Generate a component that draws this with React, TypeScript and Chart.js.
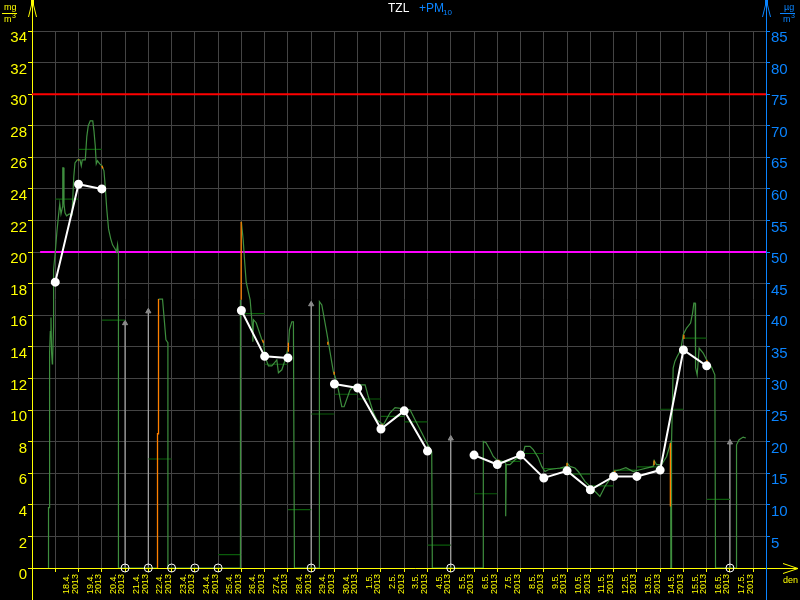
import React, { useEffect, useRef } from "react";
import { Chart, registerables } from "chart.js";

Chart.register(...registerables);

// ---------- data ----------
const dayLabels = [
  "18.4.", "19.4.", "20.4.", "21.4.", "22.4.", "23.4.", "24.4.", "25.4.", "26.4.", "27.4.",
  "28.4.", "29.4.", "30.4.", "1.5.", "2.5.", "3.5.", "4.5.", "5.5.", "6.5.", "7.5.",
  "8.5.", "9.5.", "10.5.", "11.5.", "12.5.", "13.5.", "14.5.", "15.5.", "16.5.", "17.5.",
];
const yearLabel = "2013";

// TZL daily means (days 1..30), null = missing
const tzlDaily = [
  18.1, 24.3, 24.0, null, null, null, null, null, 16.3, 13.4,
  13.3, null, 11.65, 11.4, 8.8, 9.95, 7.4, null, 7.15, 6.55,
  7.15, 5.7, 6.15, 4.95, 5.8, 5.8, 6.2, 13.8, 12.8, null,
];

// PM daily step values (days 1..30)
const pmDaily = [
  23.35, 26.5, 15.7, null, 6.9, null, null, 0.85, 16.1, 12.9,
  3.7, 9.75, 11.0, 10.7, 9.6, 9.25, 1.45, null, 4.7, 6.75,
  7.25, 6.3, 5.95, 5.2, 6.2, 6.4, 10.05, 14.55, 4.35, null,
];

// days with missing data (circles on the axis)
const missingDays = [4, 5, 6, 7, 8, 12, 18, 30];
// gray arrows (day, value)
const arrowDays = [4, 5, 12, 18, 30];
const arrowValues = [15.6, 16.35, 16.8, 8.3, 8.05];

const limitRed = 30;
const limitMagenta = 20;

// hi-res PM curve (time in days from 17.4. 0:00)
const pmTimes = [
  0.71, 0.71, 0.756, 0.756, 0.786, 0.816, 0.842, 0.872, 0.885, 0.928, 0.928, 1.001, 1.074, 1.143, 1.194,
  1.246, 1.314, 1.323, 1.357, 1.375, 1.418, 1.486, 1.602, 1.718, 1.796, 1.847, 1.946, 2.062, 2.118, 2.161,
  2.29, 2.354, 2.418, 2.504, 2.612, 2.663, 2.719, 2.762, 2.814, 2.912, 3.007, 3.093, 3.149, 3.213, 3.29,
  3.385, 3.462, 3.565, 3.634, 3.677, 3.716, 3.716, 5.395, 5.395,
  5.438, 5.61, 5.696, 5.756, 5.842, 5.842, 8.96, 8.96, 8.96,
  9.0, 9.077, 9.141, 9.205, 9.261, 9.377, 9.493, 9.493, 9.519, 9.635, 9.88, 9.948, 10.021, 10.163, 10.309,
  10.524, 10.593, 10.739, 10.881, 11.022, 11.065, 11.168, 11.237, 11.28,
  12.354, 12.354, 12.457, 12.672, 12.955, 13.028, 13.17, 13.316, 13.415, 13.673, 13.888, 14.317, 14.459,
  14.674, 14.82, 15.103, 15.391, 15.606, 16.25, 16.465, 16.753, 16.967, 17.182, 17.208,
  19.399, 19.399, 19.515, 19.687, 19.828, 19.974, 20.189, 20.361, 20.361, 20.387, 20.546, 20.761, 20.975,
  21.117, 21.19, 21.405, 21.546, 21.761, 21.907, 22.049, 22.191, 22.693, 22.981, 23.007, 23.123, 23.338,
  23.479, 23.767, 24.055, 24.27, 24.411, 24.626, 24.914, 24.983, 25.27, 25.528, 25.842, 26.13, 26.701,
  26.744, 26.847, 27.062, 27.277, 27.448, 27.46, 27.475, 27.49, 27.56, 27.633, 27.732, 27.848, 27.921,
  27.99, 28.136, 28.308, 28.394, 28.449, 28.505, 28.522, 28.591, 28.677, 28.849, 28.995, 29.038, 29.21,
  29.351, 29.381, 30.283, 30.283, 30.395, 30.567, 30.683,
];
const pmValues = [
  0, 3.82, 3.82, 13.63, 14.96, 15.86, 13.63, 12.93, 13.18, 15.29, 18.88, 20.02, 21.35, 22.36, 23.06,
  22.42, 22.87, 25.34, 25.34, 23.06, 22.49, 22.3, 22.42, 22.36, 24.77, 25.65, 25.84, 25.84, 25.46, 25.84,
  25.84, 27.3, 28.0, 28.31, 28.31, 27.68, 26.73, 25.59, 25.78, 25.59, 25.46, 25.15, 24.13, 22.74, 21.47,
  20.84, 20.46, 20.21, 20.02, 20.46, 19.83, 0, 0, null,
  17.03, 17.03, 15.53, 14.45, 14.26, 0, 0, 16.98, null,
  21.92, 20.78, 19.39, 18.12, 17.74, 16.98, 14.89, 14.32, 15.72, 15.53, 14.45, 14.26, 13.37, 12.8, 12.8,
  13.18, 12.36, 12.55, 13.18, 14.01, 15.08, 15.59, 15.59, 0,
  0, 16.87, 16.66, 14.89, 12.42, 12.11, 11.28, 10.21, 10.21, 11.28, 11.6, 11.6, 10.84,
  9.83, 9.39, 9.07, 9.83, 10.15, 10.02, 9.39, 8.56, 7.93, 7.36, 0,
  0, 8.01, 7.93, 7.49, 7.06, 6.85, 6.75, 6.66, 3.27, 6.54, 6.54, 6.85, 7.06,
  7.28, 7.7, 7.7, 7.49, 6.98, 6.43, 6.11, 6.22, 6.33, 6.43, 6.65, 6.43, 6.33,
  6.11, 5.48, 5.06, 4.75, 4.53, 5.16, 5.8, 6.11, 6.22, 6.35, 6.11, 6.22, 6.43,
  6.81, 6.54, 6.54, 7.06, 7.91, 0, 0, 7.91, 12.66, 13.08, 13.39, 13.71, 14.13,
  14.77, 15.19, 15.51, 16.14, 16.77, 16.77, 12.68, 12.23, 13.92, 13.61, 13.18, 12.97, 12.72,
  12.23, 0, 0, 7.8, 8.12, 8.29, 8.23,
];

// orange flagged pieces of the PM curve
const orangeTimes = [
  1.99, 2.03, 2.03, 3.0, 3.05, 3.05, 5.395, 5.395, 5.438, 5.438, 5.438, 8.99, 8.99, 8.99,
  9.91, 9.95, 9.95, 11.02, 11.02, 11.02, 12.715, 12.715, 12.715, 12.99, 12.99, 12.99,
  13.99, 14.02, 14.02, 15.03, 15.06, 15.06, 20.04, 20.07, 20.07, 23.0, 23.0, 23.0,
  25.02, 25.05, 25.05, 26.74, 26.74, 26.74, 27.44, 27.44, 27.44, 28.02, 28.02, 28.02, 29.0, 29.04,
];
const orangeValues = [
  25.84, 25.84, null, 25.46, 25.3, null, 0, 8.5, 8.5, 17.03, null, 16.98, 21.92, null,
  14.45, 14.26, null, 13.69, 14.26, null, 14.32, 14.13, null, 12.42, 12.23, null,
  11.6, 11.6, null, 9.1, 9.07, null, 6.85, 6.8, null, 6.65, 6.43, null,
  6.11, 6.15, null, 6.81, 6.5, null, 7.91, 3.9, null, 14.77, 14.5, null, 13.18, 12.97,
];

// ---------- styles ----------
const YELLOW = "#ffff00";
const BLUE = "#0a84ff";
const GRID = "#444444";
const GREEN = "#3e8e3e";
const DARKGREEN = "#0b5c0b";
const ORANGE = "#ff8000";
const FONT = "'Liberation Sans', Arial, sans-serif";

const isWhole = (v: number) => Math.abs(v - Math.round(v)) < 1e-6;
const isHalf = (v: number) => Math.abs(v - Math.floor(v) - 0.5) < 1e-6;
const al = (p: number) => Math.round(p - 0.5) + 0.5;

const decorPlugin = {
  id: "decor",
  beforeDatasetsDraw(chart: any) {
    const ctx = chart.ctx as CanvasRenderingContext2D;
    const { left, right, bottom } = chart.chartArea;
    const xl = al(left), xr = al(right), yb = al(bottom);
    ctx.save();
    ctx.lineWidth = 1;
    // x axis
    ctx.strokeStyle = YELLOW;
    ctx.beginPath();
    ctx.moveTo(xl, yb); ctx.lineTo(798, yb);
    ctx.moveTo(798, yb); ctx.lineTo(783, yb - 5);
    ctx.moveTo(798, yb); ctx.lineTo(783, yb + 5);
    ctx.stroke();
    // left axis
    ctx.beginPath();
    ctx.moveTo(xl, 0); ctx.lineTo(xl, 600);
    ctx.moveTo(xl, 1); ctx.lineTo(xl - 4, 17);
    ctx.moveTo(xl, 1); ctx.lineTo(xl + 4, 17);
    ctx.stroke();
    ctx.fillStyle = YELLOW;
    ctx.fillRect(xl - 1.5, 0, 3, 5);
    // right axis
    ctx.strokeStyle = BLUE;
    ctx.beginPath();
    ctx.moveTo(xr, 0); ctx.lineTo(xr, 600);
    ctx.moveTo(xr, 1); ctx.lineTo(xr - 4, 17);
    ctx.moveTo(xr, 1); ctx.lineTo(xr + 4, 17);
    ctx.stroke();
    ctx.fillStyle = BLUE;
    ctx.fillRect(xr - 1.5, 0, 3, 5);
    ctx.restore();
  },
  afterDraw(chart: any) {
    const ctx = chart.ctx as CanvasRenderingContext2D;
    ctx.save();
    ctx.textBaseline = "top";
    ctx.textAlign = "left";
    // title
    ctx.font = `12px ${FONT}`;
    ctx.fillStyle = "#ffffff";
    ctx.fillText("TZL", 388, 3);
    ctx.fillStyle = BLUE;
    ctx.fillText("+PM", 419, 3);
    ctx.font = `8px ${FONT}`;
    ctx.fillText("10", 443, 9);
    // units left
    ctx.fillStyle = YELLOW;
    ctx.strokeStyle = YELLOW;
    ctx.font = `9px ${FONT}`;
    ctx.fillText("mg", 4, 3);
    ctx.fillText("m", 4, 15);
    ctx.font = `7px ${FONT}`;
    ctx.fillText("3", 12, 13);
    ctx.beginPath();
    ctx.moveTo(2, 13.5); ctx.lineTo(17, 13.5);
    ctx.stroke();
    // units right
    ctx.fillStyle = BLUE;
    ctx.strokeStyle = BLUE;
    ctx.font = `9px ${FONT}`;
    ctx.fillText("\u00b5g", 784, 3);
    ctx.fillText("m", 783, 15);
    ctx.font = `7px ${FONT}`;
    ctx.fillText("3", 791, 13);
    ctx.beginPath();
    ctx.moveTo(780, 13.5); ctx.lineTo(795, 13.5);
    ctx.stroke();
    // x unit
    ctx.fillStyle = YELLOW;
    ctx.font = `9px ${FONT}`;
    ctx.fillText("den", 783, 576);
    ctx.restore();
  },
};

function buildSteps(vals: (number | null)[]) {
  const pts: { x: number; y: number | null }[] = [];
  vals.forEach((v, i) => {
    if (v === null) return;
    const d = i + 1;
    pts.push({ x: d, y: v }, { x: d + 1, y: v }, { x: d + 1, y: null });
  });
  return pts;
}

export default function App() {
  const ref = useRef<HTMLCanvasElement>(null);
  useEffect(() => {
    const canvas = ref.current!;
    const greenData = pmTimes.map((t, i) => ({ x: t, y: pmValues[i] }));
    const orangeData = orangeTimes.map((t, i) => ({ x: t, y: orangeValues[i] }));
    const tzlData = tzlDaily.map((v, i) => ({ x: i + 1, y: v }));
    const circleData = missingDays.map((d) => ({ x: d, y: 0 }));
    const arrowLines: { x: number; y: number | null }[] = [];
    arrowDays.forEach((d, i) => {
      arrowLines.push({ x: d, y: 0 }, { x: d, y: arrowValues[i] - 0.2 }, { x: d, y: null });
    });
    const arrowHeads = arrowDays.map((d, i) => ({ x: d, y: arrowValues[i] - 0.1 }));

    const chart = new Chart(canvas, {
      type: "line",
      data: {
        datasets: [
          {
            label: "missing",
            type: "scatter",
            data: circleData,
            pointStyle: "circle",
            pointRadius: 4,
            pointBorderColor: "#ffffff",
            pointBackgroundColor: "rgba(0,0,0,0)",
            pointBorderWidth: 1,
            showLine: false,
            clip: false,
            order: 0,
          } as any,
          {
            label: "TZL",
            data: tzlData,
            borderColor: "#ffffff",
            borderWidth: 2,
            pointRadius: 3.5,
            pointBackgroundColor: "#ffffff",
            pointBorderColor: "#ffffff",
            spanGaps: false,
            tension: 0,
            order: 1,
          },
          {
            label: "flag",
            data: orangeData,
            borderColor: ORANGE,
            borderWidth: 1.3,
            pointRadius: 0,
            spanGaps: false,
            order: 2,
          },
          {
            label: "PM",
            data: greenData,
            borderColor: GREEN,
            borderWidth: 1.2,
            pointRadius: 0,
            spanGaps: false,
            order: 3,
          },
          {
            label: "PM daily",
            data: buildSteps(pmDaily),
            borderColor: DARKGREEN,
            borderWidth: 1.2,
            pointRadius: 0,
            spanGaps: false,
            order: 4,
          },
          {
            label: "arrows",
            data: arrowLines,
            borderColor: "#a8a8a8",
            borderWidth: 1.2,
            pointRadius: 0,
            spanGaps: false,
            order: 5,
          },
          {
            label: "arrowheads",
            type: "scatter",
            data: arrowHeads,
            pointStyle: "triangle",
            pointRadius: 3,
            pointBackgroundColor: "#8a8a8a",
            pointBorderColor: "#8a8a8a",
            showLine: false,
            order: 5,
          } as any,
          {
            label: "limit30",
            data: [{ x: 0, y: limitRed }, { x: 31.55, y: limitRed }],
            borderColor: "#ff0000",
            borderWidth: 2,
            pointRadius: 0,
            order: 6,
          },
          {
            label: "limit20",
            data: [{ x: 0.35, y: limitMagenta }, { x: 31.55, y: limitMagenta }],
            borderColor: "#ff00ff",
            borderWidth: 2,
            pointRadius: 0,
            order: 6,
          },
        ],
      },
      options: {
        animation: false,
        responsive: false,
        devicePixelRatio: 1,
        parsing: true,
        layout: { padding: { top: 31, left: 0, right: 0, bottom: 0 } },
        plugins: {
          legend: { display: false },
          title: { display: false },
          tooltip: { enabled: false },
        },
        elements: { line: { tension: 0 } },
        scales: {
          x: {
            type: "linear",
            position: "bottom",
            min: 0,
            max: 31.55,
            border: { display: false },
            grid: {
              color: (c: any) => (c.tick && isWhole(c.tick.value) && c.tick.value >= 1 ? GRID : "rgba(0,0,0,0)"),
              tickColor: (c: any) => (c.tick && isWhole(c.tick.value) && c.tick.value >= 1 ? YELLOW : "rgba(0,0,0,0)"),
              tickLength: 4,
              lineWidth: 1,
            },
            ticks: {
              stepSize: 0.5,
              maxTicksLimit: 1000,
              includeBounds: false,
              autoSkip: false,
              minRotation: 90,
              maxRotation: 90,
              padding: 2,
              color: YELLOW,
              font: { family: FONT, size: 9, lineHeight: 0.95 },
              callback: (value: any) => {
                const v = Number(value);
                if (isHalf(v)) {
                  const k = Math.round(v - 0.5);
                  if (k >= 1 && k <= dayLabels.length) return [dayLabels[k - 1], yearLabel];
                }
                return "";
              },
            },
            afterFit: (s: any) => {
              s.height = 32;
            },
          },
          y: {
            type: "linear",
            position: "left",
            min: 0,
            max: 34,
            border: { display: false },
            grid: { color: GRID, tickColor: YELLOW, tickLength: 4, lineWidth: 1 },
            ticks: {
              stepSize: 2,
              color: YELLOW,
              padding: 1,
              labelOffset: 7,
              font: { family: FONT, size: 15 },
            },
            afterFit: (s: any) => {
              s.width = 32;
            },
          },
          y1: {
            type: "linear",
            position: "right",
            min: 0,
            max: 85,
            border: { display: false },
            grid: { drawOnChartArea: false, tickColor: BLUE, tickLength: 4 },
            ticks: {
              stepSize: 5,
              color: BLUE,
              padding: 1,
              labelOffset: 7,
              font: { family: FONT, size: 15 },
              callback: (v: any) => (Number(v) === 0 ? "" : String(v)),
            },
            afterFit: (s: any) => {
              s.width = 34;
            },
          },
        },
      } as any,
      plugins: [decorPlugin],
    });
    return () => chart.destroy();
  }, []);
  return (
    <canvas
      ref={ref}
      width={800}
      height={600}
      style={{ position: "fixed", left: 0, top: 0, width: 800, height: 600, background: "#000" }}
    />
  );
}
